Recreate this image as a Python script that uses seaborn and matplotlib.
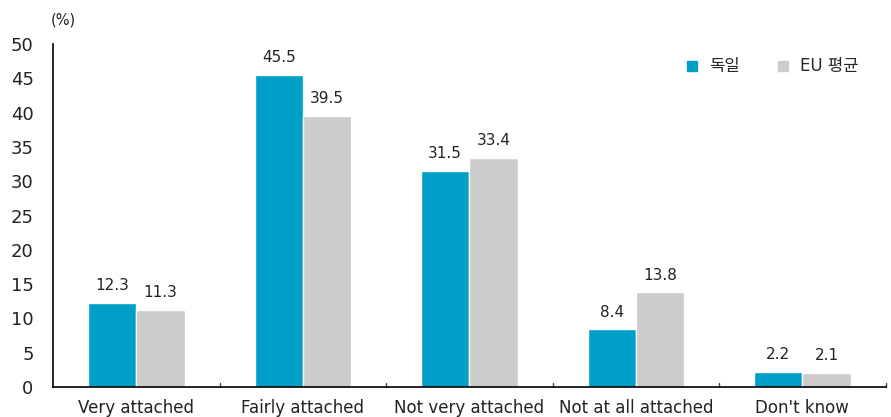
import pandas as pd
import numpy as np
import matplotlib
matplotlib.use("Agg")
import matplotlib.pyplot as plt
import seaborn as sns
from matplotlib.lines import Line2D

categories = ["Very attached", "Fairly attached", "Not very attached", "Not at all attached", "Don't know"]
series = ["독일", "EU 평균"]
germany = [12.3, 45.5, 31.5, 8.4, 2.2]
eu_avg = [11.3, 39.5, 33.4, 13.8, 2.1]

colors = ["#009FC7", "#CCCCCC"]

df = pd.DataFrame({
    "Category": categories * 2,
    "Series": [series[0]] * len(categories) + [series[1]] * len(categories),
    "Value": germany + eu_avg,
})

sns.set_style("white")
plt.rcParams["font.family"] = ["DejaVu Sans", "Noto Sans CJK KR"]

fig = plt.figure(figsize=(8.91, 4.17), dpi=100)
ax = fig.add_axes([0.0595, 0.072, 0.9345, 0.822])

sns.barplot(data=df, x="Category", y="Value", hue="Series", palette=colors,
            width=0.58, ax=ax, saturation=1, legend=False)

for cont in ax.containers:
    labels = [f"{v:.1f}" for v in cont.datavalues]
    ax.bar_label(cont, labels=labels, padding=7, fontsize=11, color="#222222")

ax.set_ylim(0, 50)
ax.set_xlim(-0.5, len(categories) - 0.5)
ax.set_yticks(np.arange(0, 51, 5))
ax.set_xlabel("")
ax.set_ylabel("")
ax.tick_params(axis="y", direction="in", length=5, labelsize=13, colors="#222222", pad=14)
ax.tick_params(axis="x", length=0, labelsize=12, colors="#222222", pad=9)
for s in ["top", "right"]:
    ax.spines[s].set_visible(False)
for s in ["left", "bottom"]:
    ax.spines[s].set_color("black")
    ax.spines[s].set_linewidth(1.2)

# category separator ticks on the x-axis
for b in np.arange(0.5, len(categories), 1.0):
    ax.plot([b, b], [0, 0.6], color="#444444", lw=1, clip_on=False)

ax.text(0.012, 1.05, "(%)", transform=ax.transAxes, fontsize=10.5, ha="center", va="bottom", color="#222222")

handles = [Line2D([0], [0], marker="s", linestyle="", markersize=7, markerfacecolor=c, markeredgecolor=c, label=l)
           for c, l in zip(colors, series)]
ax.legend(handles=handles, loc="upper right", bbox_to_anchor=(0.985, 1.005), ncol=2, frameon=False,
          fontsize=12, handletextpad=0.0, columnspacing=1.6)

fig.savefig("out.png", dpi=100)
